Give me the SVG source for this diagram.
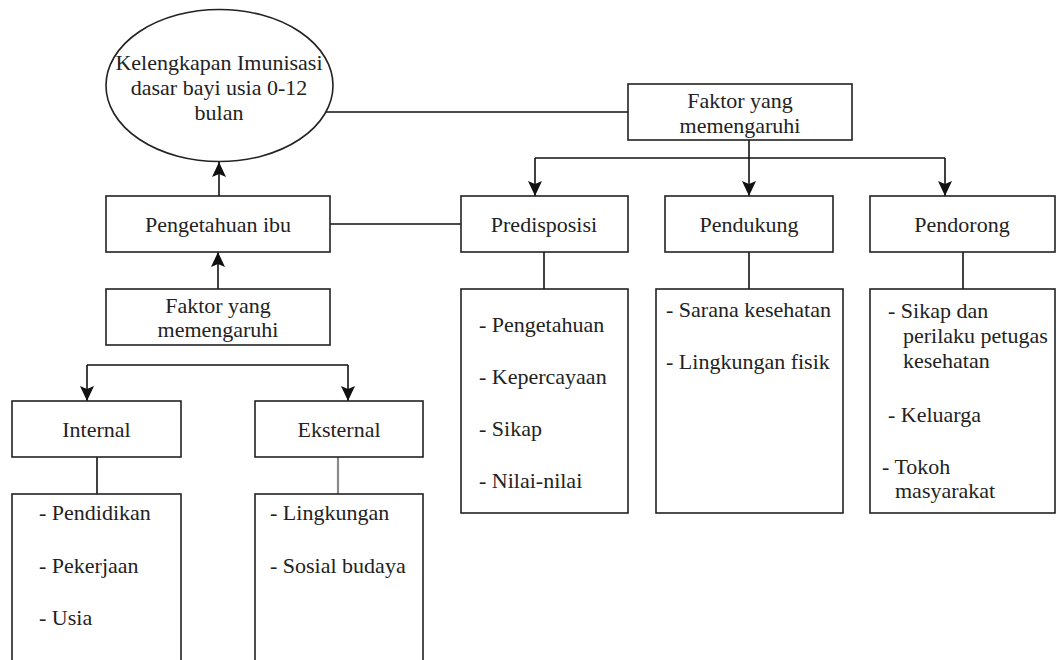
<svg xmlns="http://www.w3.org/2000/svg" width="1057" height="660" viewBox="0 0 1057 660">
<style>
.box{fill:#fff;stroke:#222;stroke-width:1.6}
text{font-family:"Liberation Serif",Tinos,"Times New Roman",Times,"Nimbus Roman","Noto Serif","DejaVu Serif",FreeSerif,serif;font-size:22px;fill:#222}
.c{text-anchor:middle}
.ln{fill:none;stroke:#111;stroke-width:1.6}
.gray{fill:none;stroke:#8a8a8a;stroke-width:2.2}
</style>
<defs>
<marker id="arr" markerUnits="userSpaceOnUse" markerWidth="16" markerHeight="16" refX="15" refY="7" orient="auto">
<path d="M0,0 L15,7 L0,14 L3,7 Z" fill="#111"/>
</marker>
</defs>
<rect width="1057" height="660" fill="#fff"/>
<g id="connectors">
<path class="ln" d="M326 112 H628"/>
<path class="ln" d="M219 196 V162" marker-end="url(#arr)"/>
<path class="ln" d="M218 289 V252" marker-end="url(#arr)"/>
<path class="ln" d="M330 224 H461"/>
<path class="ln" d="M749 140 V196" marker-end="url(#arr)"/>
<path class="ln" d="M535 158 H945"/>
<path class="ln" d="M535 158 V196" marker-end="url(#arr)"/>
<path class="ln" d="M945 158 V196" marker-end="url(#arr)"/>
<path class="ln" d="M544 252 V289"/>
<path class="ln" d="M749 252 V289"/>
<path class="ln" d="M963 252 V289"/>
<path class="ln" d="M87 365 H348"/>
<path class="ln" d="M87 365 V401" marker-end="url(#arr)"/>
<path class="ln" d="M348 365 V401" marker-end="url(#arr)"/>
<path class="ln" d="M97 457 V494"/>
<path class="gray" d="M338 457 V494"/>
</g>
<g id="kelengkapan">
<ellipse cx="219.5" cy="85.5" rx="113.5" ry="76" fill="#fff" stroke="#222" stroke-width="1.6"/>
<text class="c" x="219" y="70">Kelengkapan Imunisasi</text>
<text class="c" x="219" y="95">dasar bayi usia 0-12</text>
<text class="c" x="219" y="120">bulan</text>
</g>
<g id="pengetahuan-ibu">
<rect class="box" x="106" y="196" width="224" height="56"/>
<text class="c" x="218" y="231.5">Pengetahuan ibu</text>
</g>
<g id="faktor-kiri">
<rect class="box" x="106" y="289" width="224" height="56"/>
<text class="c" x="218" y="313">Faktor yang</text>
<text class="c" x="218" y="337">memengaruhi</text>
</g>
<g id="faktor-kanan">
<rect class="box" x="628" y="84" width="224" height="56"/>
<text class="c" x="740" y="108">Faktor yang</text>
<text class="c" x="740" y="133">memengaruhi</text>
</g>
<g id="predisposisi">
<rect class="box" x="461" y="196" width="167" height="56"/>
<text class="c" x="544" y="231.5">Predisposisi</text>
</g>
<g id="pendukung">
<rect class="box" x="665" y="196" width="168" height="56"/>
<text class="c" x="749" y="231.5">Pendukung</text>
</g>
<g id="pendorong">
<rect class="box" x="870" y="196" width="185" height="56"/>
<text class="c" x="962" y="231.5">Pendorong</text>
</g>
<g id="predisposisi-list">
<rect class="box" x="461" y="289" width="167" height="224"/>
<text x="479" y="332">- Pengetahuan</text>
<text x="479" y="384">- Kepercayaan</text>
<text x="479" y="436">- Sikap</text>
<text x="479" y="488">- Nilai-nilai</text>
</g>
<g id="pendukung-list">
<rect class="box" x="656" y="289" width="187" height="224"/>
<text x="666" y="317">- Sarana kesehatan</text>
<text x="666" y="369">- Lingkungan fisik</text>
</g>
<g id="pendorong-list">
<rect class="box" x="870" y="289" width="185" height="224"/>
<text x="888" y="318">- Sikap dan</text>
<text x="903" y="343">perilaku petugas</text>
<text x="903" y="368">kesehatan</text>
<text x="888" y="422">- Keluarga</text>
<text x="882" y="474">- Tokoh</text>
<text x="895" y="498">masyarakat</text>
</g>
<g id="internal">
<rect class="box" x="12" y="401" width="169" height="56"/>
<text class="c" x="96.5" y="436.5">Internal</text>
</g>
<g id="internal-list">
<rect class="box" x="12" y="494" width="169" height="180"/>
<text x="39" y="520">- Pendidikan</text>
<text x="39" y="573">- Pekerjaan</text>
<text x="39" y="625">- Usia</text>
</g>
<g id="eksternal">
<rect class="box" x="255" y="401" width="168" height="56"/>
<text class="c" x="339" y="436.5">Eksternal</text>
</g>
<g id="eksternal-list">
<rect class="box" x="255" y="494" width="168" height="180"/>
<text x="270" y="520">- Lingkungan</text>
<text x="270" y="573">- Sosial budaya</text>
</g>
</svg>
